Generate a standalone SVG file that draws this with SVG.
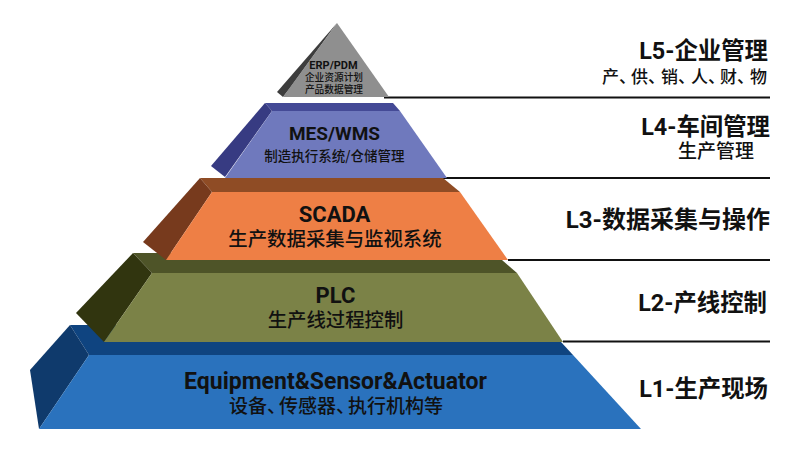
<svg xmlns="http://www.w3.org/2000/svg" width="791" height="449" viewBox="0 0 791 449">
<style>
text{font-family:"Roboto","Noto Sans CJK SC",sans-serif;font-weight:700;fill:#111;text-anchor:middle}
.cn{font-family:"Noto Sans CJK SC",sans-serif;font-weight:500}
.h{font-size:22px}
.s{font-size:19.4px}
.lv{font-size:23.4px;text-anchor:end}
.sub{font-size:19px;text-anchor:end;font-family:"Noto Sans CJK SC",sans-serif;font-weight:500}
line{stroke:#111;stroke-width:2}
</style>
<rect width="791" height="449" fill="#fff"/>
<g id="connectors">
<line x1="384" y1="97.5" x2="770" y2="97.5"/>
<line x1="443" y1="178" x2="770" y2="178"/>
<line x1="508" y1="260" x2="770" y2="260"/>
<line x1="563" y1="341.5" x2="770" y2="341.5"/>
</g>
<g id="L1">
<polygon points="70,325 540,325 561,342 573,355 89,355" fill="#0f4480"/>
<polygon points="70,325 30,370 39,429 89,355" fill="#0f3a6c"/>
<polygon points="89,355 573,355 641,429 39,429" fill="#2a72bd"/>
<text x="335.500" y="388.500" style="font-size:23px">Equipment&amp;Sensor&amp;Actuator</text>
<text class="cn" y="413" style="font-size:19px;text-anchor:start" x="229 248 267 279 298 317 336 348 367 386 405 424">设备、传感器、执行机构等</text>
</g>
<g id="L2">
<polygon points="133,253 490,253 502,260 517,273 152,273" fill="#4e5428"/>
<polygon points="133,253 76,313 104,342 152,273" fill="#31350f"/>
<polygon points="152,273 517,273 563,342 104,342" fill="#7b8247"/>
<text x="335.500" y="303" class="h">PLC</text>
<text class="cn s" x="335.500" y="327">生产线过程控制</text>
</g>
<g id="L3">
<polygon points="200,178 443,178 460,192 212,192" fill="#8f4c25"/>
<polygon points="200,178 143,242 166,260 212,192" fill="#773a1d"/>
<polygon points="212,192 460,192 508,260 166,260" fill="#ee7f45"/>
<text x="334.500" y="222" class="h">SCADA</text>
<text class="cn s" x="335" y="246">生产数据采集与监视系统</text>
</g>
<g id="L4">
<polygon points="265,103 393,103 400,111 272,111" fill="#444a96"/>
<polygon points="265,103 211,166 225,177 272,111" fill="#373b82"/>
<polygon points="272,111 400,111 447,178 225,178" fill="#6f79bd"/>
<text x="334.500" y="140" style="font-size:19px">MES/WMS</text>
<text class="cn" x="334.500" y="161" style="font-size:13.500px">制造执行系统/仓储管理</text>
</g>
<g id="L5">
<polygon points="337,23 277,92 283,97 290,88" fill="#3d3d3d"/>
<polygon points="337,23 389,97 283,97" fill="#8f8f8f"/>
<text x="333.500" y="69" style="font-size:11px">ERP/PDM</text>
<text class="cn" x="334" y="81" style="font-size:9.700px">企业资源计划</text>
<text class="cn" x="334" y="92.500" style="font-size:9.700px">产品数据管理</text>
</g>
<g id="labels">
<text class="lv" x="768" y="59">L5-企业管理</text>
<text class="sub" y="83" style="font-size:17px;text-anchor:start" x="602 619 631 648 661 678 691 708 720 737 750">产、供、销、人、财、物</text>
<text class="lv" x="770" y="135">L4-车间管理</text>
<text class="sub" x="754" y="158">生产管理</text>
<text class="lv" x="770" y="228" style="font-size:24px">L3-数据采集与操作</text>
<text class="lv" x="767" y="311">L2-产线控制</text>
<text class="lv" x="768" y="397">L1-生产现场</text>
</g>
</svg>
